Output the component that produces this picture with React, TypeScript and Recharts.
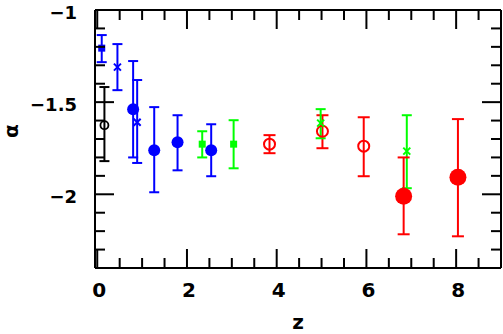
import React from "react";
import { ScatterChart, Scatter, XAxis, YAxis, ErrorBar } from "recharts";

// each point: z, alpha, lower end of bar, upper end of bar
const BLUE_SQUARES = [{ z: 0.1, a: -1.207, lo: -1.283, hi: -1.136 }];
const BLUE_CROSSES = [
  { z: 0.45, a: -1.31, lo: -1.435, hi: -1.185 },
  { z: 0.89, a: -1.609, lo: -1.83, hi: -1.38 },
];
const BLUE_DOTS = [
  { z: 0.8, a: -1.538, lo: -1.8, hi: -1.277 },
  { z: 1.27, a: -1.761, lo: -1.989, hi: -1.527 },
  { z: 1.79, a: -1.717, lo: -1.87, hi: -1.571 },
  { z: 2.54, a: -1.761, lo: -1.902, hi: -1.62 },
];
const BLACK_RINGS = [{ z: 0.16, a: -1.625, lo: -1.82, hi: -1.418 }];
const GREEN_SQUARES = [
  { z: 2.34, a: -1.728, lo: -1.8, hi: -1.658 },
  { z: 3.04, a: -1.728, lo: -1.859, hi: -1.598 },
];
const GREEN_CROSSES = [
  { z: 4.98, a: -1.614, lo: -1.696, hi: -1.538 },
  { z: 6.9, a: -1.766, lo: -1.967, hi: -1.571 },
];
const RED_RINGS = [
  { z: 3.84, a: -1.728, lo: -1.777, hi: -1.679 },
  { z: 5.02, a: -1.658, lo: -1.75, hi: -1.571 },
  { z: 5.94, a: -1.739, lo: -1.902, hi: -1.582 },
];
const RED_DOTS = [
  { z: 6.83, a: -2.011, lo: -2.217, hi: -1.8 },
  { z: 8.04, a: -1.908, lo: -2.228, hi: -1.592 },
];

const X_TICKS = [0, 0.5, 1, 1.5, 2, 2.5, 3, 3.5, 4, 4.5, 5, 5.5, 6, 6.5, 7, 7.5, 8, 8.5];
const X_LABELS = [0, 2, 4, 6, 8];
const Y_TICKS = [-2.3, -2.2, -2.1, -2, -1.9, -1.8, -1.7, -1.6, -1.5, -1.4, -1.3, -1.2, -1.1, -1];
const Y_LABELS = [-2, -1.5, -1];

const W = 503;
const H = 334;
const LEFT = 95;
const RIGHT = 501;
const TOP = 10;
const BOTTOM = 268;
const MAJOR = 19;
const MINOR = 10;
const FONT = "'DejaVu Sans', sans-serif";

const withErr = (pts) => pts.map((p) => ({ ...p, err: [p.a - p.lo, p.hi - p.a] }));

const isLabel = (list, v) => list.some((l) => Math.abs(l - v) < 1e-6);
const fmt = (v) => (v < 0 ? "\u2212" + String(-v) : String(v));

const BottomTick = (props) => {
  const { x, payload } = props;
  const v = payload.value;
  const major = isLabel(X_LABELS, v);
  return (
    <g>
      <line x1={x} x2={x} y1={BOTTOM} y2={BOTTOM - (major ? MAJOR : MINOR)} stroke="#000" strokeWidth={2} />
      {major && (
        <text x={x + 2} y={290} textAnchor="middle" dominantBaseline="central" fontFamily={FONT} fontWeight="bold" fontSize={20} fill="#000">
          {fmt(v)}
        </text>
      )}
    </g>
  );
};

const TopTick = (props) => {
  const { x, payload } = props;
  const major = isLabel(X_LABELS, payload.value);
  return <line x1={x} x2={x} y1={TOP} y2={TOP + (major ? MAJOR : MINOR)} stroke="#000" strokeWidth={2} />;
};

const LeftTick = (props) => {
  const { y, payload } = props;
  const v = payload.value;
  const major = isLabel(Y_LABELS, v);
  return (
    <g>
      <line x1={LEFT} x2={LEFT + (major ? MAJOR : MINOR)} y1={y} y2={y} stroke="#000" strokeWidth={2} />
      {major && (
        <text x={77} y={y + 2} textAnchor="end" dominantBaseline="central" fontFamily={FONT} fontWeight="bold" fontSize={18} fill="#000">
          {fmt(v)}
        </text>
      )}
    </g>
  );
};

const RightTick = (props) => {
  const { y, payload } = props;
  const major = isLabel(Y_LABELS, payload.value);
  return <line x1={RIGHT} x2={RIGHT - (major ? MAJOR : MINOR)} y1={y} y2={y} stroke="#000" strokeWidth={2} />;
};

const square = (s, color) => (p) =>
  p.cx == null ? null : <rect x={p.cx - s / 2} y={p.cy - s / 2} width={s} height={s} fill={color} />;

const cross = (s, color) => (p) =>
  p.cx == null ? null : (
    <path
      d={`M${p.cx - s},${p.cy - s}L${p.cx + s},${p.cy + s}M${p.cx - s},${p.cy + s}L${p.cx + s},${p.cy - s}`}
      stroke={color}
      strokeWidth={2}
    />
  );

const disc = (r, color) => (p) => (p.cx == null ? null : <circle cx={p.cx} cy={p.cy} r={r} fill={color} />);

const ring = (r, color, sw) => (p) =>
  p.cx == null ? null : <circle cx={p.cx} cy={p.cy} r={r} fill="none" stroke={color} strokeWidth={sw} />;

const series = [
  { data: BLACK_RINGS, color: "#000000", shape: ring(4, "#000000", 1.8), cap: 5 },
  { data: BLUE_SQUARES, color: "#0000ff", shape: square(7, "#0000ff"), cap: 5 },
  { data: BLUE_CROSSES, color: "#0000ff", shape: cross(3.5, "#0000ff"), cap: 5 },
  { data: BLUE_DOTS, color: "#0000ff", shape: disc(6, "#0000ff"), cap: 5 },
  { data: GREEN_SQUARES, color: "#00ff00", shape: square(7, "#00ff00"), cap: 5 },
  { data: RED_RINGS, color: "#ff0000", shape: ring(5.5, "#ff0000", 2), cap: 6 },
  { data: GREEN_CROSSES, color: "#00ff00", shape: cross(3.5, "#00ff00"), cap: 5 },
  { data: RED_DOTS, color: "#ff0000", shape: disc(8.5, "#ff0000"), cap: 6 },
];

export default function App() {
  return (
    <div style={{ position: "absolute", left: 0, top: 0, width: W, height: H, background: "#fff" }}>
      <ScatterChart width={W} height={H} margin={{ top: TOP - 1, right: W - RIGHT - 1, bottom: 0, left: 0 }}>
        <XAxis
          xAxisId="b"
          dataKey="z"
          type="number"
          domain={[-0.05, 9]}
          allowDataOverflow
          ticks={X_TICKS}
          interval={0}
          height={H - BOTTOM}
          axisLine={{ stroke: "#000", strokeWidth: 2 }}
          tickLine={false}
          tick={<BottomTick />}
        />
        <XAxis
          xAxisId="t"
          orientation="top"
          dataKey="z"
          type="number"
          domain={[-0.05, 9]}
          allowDataOverflow
          ticks={X_TICKS}
          interval={0}
          height={1}
          axisLine={{ stroke: "#000", strokeWidth: 2 }}
          tickLine={false}
          tick={<TopTick />}
        />
        <YAxis
          yAxisId="l"
          dataKey="a"
          type="number"
          domain={[-2.4, -1]}
          allowDataOverflow
          ticks={Y_TICKS}
          interval={0}
          width={LEFT}
          axisLine={{ stroke: "#000", strokeWidth: 2 }}
          tickLine={false}
          tick={<LeftTick />}
        />
        <YAxis
          yAxisId="r"
          orientation="right"
          dataKey="a"
          type="number"
          domain={[-2.4, -1]}
          allowDataOverflow
          ticks={Y_TICKS}
          interval={0}
          width={1}
          axisLine={{ stroke: "#000", strokeWidth: 2 }}
          tickLine={false}
          tick={<RightTick />}
        />
        {series.map((s, i) => (
          <Scatter
            key={i}
            xAxisId="b"
            yAxisId="l"
            data={withErr(s.data)}
            shape={s.shape}
            isAnimationActive={false}
          >
            <ErrorBar
              dataKey="err"
              direction="y"
              width={s.cap}
              stroke={s.color}
              strokeWidth={2}
              isAnimationActive={false}
            />
          </Scatter>
        ))}
      </ScatterChart>
      <div
        style={{
          position: "absolute",
          left: 288,
          top: 312,
          width: 20,
          textAlign: "center",
          fontFamily: FONT,
          fontWeight: "bold",
          fontSize: 20,
          lineHeight: "20px",
        }}
      >
        z
      </div>
      <div
        style={{
          position: "absolute",
          left: 1,
          top: 121,
          width: 20,
          height: 20,
          textAlign: "center",
          fontFamily: FONT,
          fontWeight: "bold",
          fontSize: 20,
          lineHeight: "20px",
          transform: "rotate(-90deg)",
        }}
      >
        α
      </div>
    </div>
  );
}
